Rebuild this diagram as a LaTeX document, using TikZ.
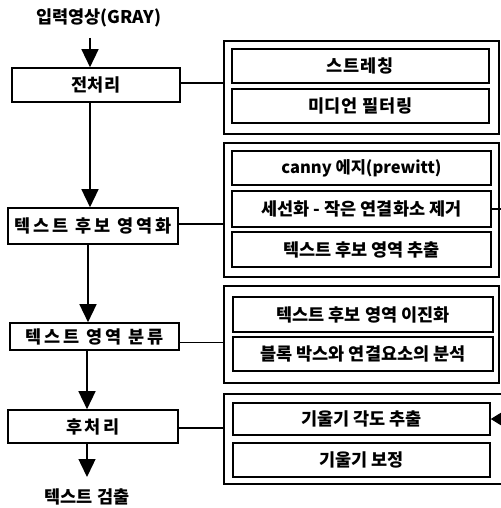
\documentclass[tikz,border=0pt]{standalone}
\usepackage{fontspec}
\setmainfont{Noto Sans CJK KR}
\newfontfamily\krR{Noto Sans CJK KR}
\newfontfamily\krL{Noto Sans CJK KR}[LetterSpace=16]
\newfontfamily\krS{Noto Sans CJK KR}[LetterSpace=5]
\usetikzlibrary{arrows.meta}
\begin{document}
\begin{tikzpicture}[x=1pt,y=-1pt,
  lbox/.style={draw,line width=1.6pt,fill=white,inner sep=0pt,font=\krL\bfseries\fontsize{17.5}{19}\selectfont},
  rbox/.style={draw,line width=1.5pt,fill=white,inner sep=0pt,font=\krR\bfseries\fontsize{17.5}{19}\selectfont},
  grp/.style={draw,line width=1.2pt,inner sep=0pt},
  conn/.style={line width=1.4pt},
  arr/.style={line width=1.4pt,-{Triangle[width=17pt,length=18pt]}},
  lbl/.style={font=\krR\bfseries\fontsize{17.5}{19}\selectfont,inner sep=0pt}]
\useasboundingbox (0,0) rectangle (500,508);
% title and result
\node[lbl] (in) at (99,18) {입력영상(GRAY)};
\node[lbl] (out) at (87,497) {텍스트 검출};
% left column
\node[lbox,font=\krR\bfseries\fontsize{17.5}{19}\selectfont,minimum width=168pt,minimum height=34pt] (pre) at (96,85) {전처리};
\node[lbox,minimum width=170pt,minimum height=36pt] (cand) at (93,226) {텍스트 후보 영역화};
\node[lbox,minimum width=169pt,minimum height=27pt] (cls) at (94.5,336.5) {텍스트 영역 분류};
\node[lbox,minimum width=170pt,minimum height=33pt] (post) at (93,426.5) {후처리};
% groups
\node[grp,minimum width=275pt,minimum height=93pt] (g1) at (361.5,87.5) {};
\node[grp,minimum width=275pt,minimum height=134pt] (g2) at (361.5,210) {};
\node[grp,minimum width=275pt,minimum height=97pt] (g3) at (361.5,334.5) {};
\node[grp,minimum width=279pt,minimum height=90pt] (g4) at (363.5,439) {};
% inner boxes
\node[rbox,font=\krS\bfseries\fontsize{17.5}{19}\selectfont,minimum width=257pt,minimum height=34pt] (str) at (360.5,66) {스트레칭};
\node[rbox,font=\krS\bfseries\fontsize{17.5}{19}\selectfont,minimum width=257pt,minimum height=34pt] (med) at (360.5,106) {미디언 필터링};
\node[rbox,font=\krR\bfseries\fontsize{16.5}{19}\selectfont,minimum width=259pt,minimum height=34pt] (edge) at (361.5,168) {canny 에지(prewitt)};
\node[rbox,minimum width=259pt,minimum height=36pt] (thin) at (361.5,209) {세선화 - 작은 연결화소 제거};
\node[rbox,minimum width=259pt,minimum height=35pt] (ext) at (361.5,249.5) {텍스트 후보 영역 추출};
\node[rbox,minimum width=260pt,minimum height=35pt] (bin) at (363,314.5) {텍스트 후보 영역 이진화};
\node[rbox,minimum width=260pt,minimum height=34pt] (blk) at (363,354) {블록 박스와 연결요소의 분석};
\node[rbox,minimum width=257pt,minimum height=32pt] (tilt) at (361.5,419) {기울기 각도 추출};
\node[rbox,minimum width=257pt,minimum height=34pt] (corr) at (361.5,460) {기울기 보정};
% arrows down the left column
\coordinate (instart) at (90,38);
\draw[arr] (instart) -- (instart |- pre.north);
\draw[arr] (pre.south -| 90,0) -- (cand.north -| 90,0);
\draw[arr] (cand.south -| 88,0) -- (cls.north -| 88,0);
\draw[arr] (cls.south -| 87,0) -- (post.north -| 87,0);
\coordinate (outend) at (87,477);
\draw[arr] (post.south -| outend) -- (outend);
% horizontal links
\draw[conn] ([yshift=2pt]pre.east) -- ([yshift=2pt]pre.east -| g1.west);
\draw[conn] ([yshift=2pt]cand.east) -- ([yshift=2pt]cand.east -| g2.west);
\draw[conn] ([yshift=-6pt]cls.east) -- ([yshift=-6pt]cls.east -| g3.west);
\draw[conn] ([yshift=-1.5pt]post.east) -- ([yshift=-1.5pt]post.east -| g4.west);
% links leaving the picture
\coordinate (thinout) at (505,209);
\draw[conn] (thin.east) -- (thinout);
\coordinate (tiltin) at (520,419);
\draw[arr,-{Triangle[width=12pt,length=10pt]}] (tiltin) -- (tilt.east);
\end{tikzpicture}
\end{document}
